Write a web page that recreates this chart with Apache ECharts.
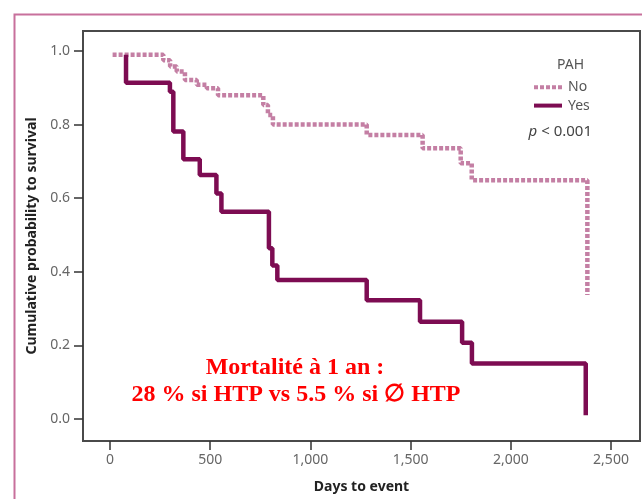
<!DOCTYPE html>
<html>
<head>
<meta charset="utf-8">
<script src="https://cdn.jsdelivr.net/npm/echarts@6/dist/echarts.min.js"></script>
<style>
html,body{margin:0;padding:0;background:#fff;}
#chart{width:642px;height:499px;}
</style>
</head>
<body>
<div id="chart"></div>
<script>
// Kaplan-Meier steps: day of event, survival after event
const daysNo = [13, 266, 300, 333, 374, 433, 483, 539, 765, 788, 813, 1281, 1560, 1750, 1805, 2382];
const survNo = [0.99, 0.975, 0.958, 0.944, 0.921, 0.908, 0.899, 0.880, 0.853, 0.826, 0.80, 0.772, 0.736, 0.695, 0.649, 0.337];
const daysYes = [80, 80, 299, 316, 366, 448, 531, 556, 793, 810, 835, 1281, 1547, 1757, 1806, 2374];
const survYes = [0.99, 0.914, 0.889, 0.781, 0.706, 0.663, 0.613, 0.563, 0.464, 0.417, 0.378, 0.323, 0.264, 0.207, 0.151, 0.01];
const xTicks = [0, 500, 1000, 1500, 2000, 2500];
const yTicks = [0, 0.2, 0.4, 0.6, 0.8, 1.0];
const seriesNames = ['No', 'Yes'];
const legendTitle = 'PAH';
const pText = '< 0.001';
const note1 = 'Mortalité à 1 an :';
const note2 = '28 % si HTP vs 5.5 % si ∅ HTP';

const colorNo = '#c47fa4';
const colorYes = '#7d0c52';
const chart = echarts.init(document.getElementById('chart'), null, {renderer: 'canvas'});
const axisColor = '#4a4a4a';
const labelFont = "'Noto Sans', sans-serif";
const dotIcon = 'path://M0,0h4v4h-4z M6,0h4v4h-4z M12,0h4v4h-4z M18,0h4v4h-4z M24,0h4v4h-4z';
const solidIcon = 'path://M0,0h28v4h-28z';
const option = {
  backgroundColor: '#fff',
  animation: false,
  grid: {left: 83, top: 31, right: 2, bottom: 58, show: true, borderColor: axisColor, borderWidth: 2},
  xAxis: {
    type: 'value', min: -134.7, max: 2644.7,
    name: 'Days to event', nameLocation: 'middle', nameGap: 39,
    nameTextStyle: {fontFamily: labelFont, fontWeight: 'bold', fontSize: 14, color: '#222'},
    axisLine: {show: true, onZero: false, lineStyle: {color: axisColor, width: 2}},
    axisTick: {show: true, length: 9, customValues: xTicks, lineStyle: {color: '#333', width: 1.5}},
    axisLabel: {customValues: xTicks, margin: 12, fontFamily: labelFont, fontSize: 14, color: '#666',
      formatter: v => v.toLocaleString('en-US')},
    splitLine: {show: false}
  },
  yAxis: {
    type: 'value', min: -0.0598, max: 1.0543,
    name: 'Cumulative probability to survival', nameLocation: 'middle', nameGap: 39,
    nameTextStyle: {fontFamily: labelFont, fontWeight: 'bold', fontSize: 14, color: '#222'},
    axisLine: {show: true, onZero: false, lineStyle: {color: axisColor, width: 2}},
    axisTick: {show: true, length: 9, customValues: yTicks, lineStyle: {color: '#333', width: 1.5}},
    axisLabel: {customValues: yTicks, margin: 13, fontFamily: labelFont, fontSize: 14, color: '#666',
      formatter: v => v.toFixed(1)},
    splitLine: {show: false}
  },
  legend: {
    orient: 'vertical', left: 529, top: 75, itemWidth: 30, itemHeight: 4, itemGap: 4,
    data: [{name: seriesNames[0], icon: dotIcon}, {name: seriesNames[1], icon: solidIcon}],
    textStyle: {fontFamily: labelFont, fontSize: 14, color: '#555', lineHeight: 14.4}
  },
  series: [
    {
      name: seriesNames[0], type: 'line', step: 'end', symbol: 'none',
      data: daysNo.map((d, i) => [d, survNo[i]]),
      lineStyle: {color: colorNo, width: 4.5, type: [4, 2], cap: 'butt'},
      itemStyle: {color: colorNo}
    },
    {
      name: seriesNames[1], type: 'line', step: 'end', symbol: 'none',
      data: daysYes.map((d, i) => [d, survYes[i]]),
      lineStyle: {color: colorYes, width: 4.5, cap: 'butt'},
      itemStyle: {color: colorYes}
    }
  ],
  graphic: [
    {type: 'rect', left: 12, top: 12, shape: {width: 700, height: 600}, z: -10,
      style: {fill: 'none', stroke: '#c8709c', lineWidth: 2}},
    {type: 'text', x: 584, y: 65, style: {text: legendTitle, align: 'right', verticalAlign: 'middle',
      font: "14px 'Noto Sans', sans-serif", fill: '#555'}},
    {type: 'text', x: 592, y: 132, style: {text: '{i|p} ' + pText, align: 'right', verticalAlign: 'middle',
      font: "15px 'Noto Sans', sans-serif", fill: '#444',
      rich: {i: {fontStyle: 'italic', fontFamily: "'Noto Sans', sans-serif", fontSize: 15, fill: '#444'}}}},
    {type: 'text', x: 295, y: 368, style: {text: note1, align: 'center', verticalAlign: 'middle',
      font: "bold 24px 'Liberation Serif', 'Times New Roman', serif", fill: '#ff0000'}},
    {type: 'text', x: 296, y: 395, style: {text: note2, align: 'center', verticalAlign: 'middle',
      font: "bold 24px 'Liberation Serif', 'Times New Roman', serif", fill: '#ff0000'}}
  ]
};
chart.setOption(option);
</script>
</body>
</html>
